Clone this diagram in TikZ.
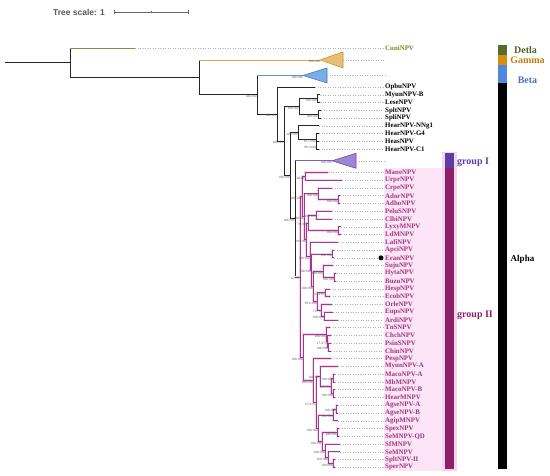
\documentclass[tikz,border=0pt]{standalone}
\usepackage{fontspec}
\setmainfont{Liberation Serif}
\setsansfont{Liberation Sans}
\usetikzlibrary{calc}
\definecolor{cunit}{HTML}{6B8E23}
\definecolor{cunib}{HTML}{7A9A3A}
\definecolor{gamb}{HTML}{D6A84A}
\definecolor{gamf}{HTML}{E9BD73}
\definecolor{gamd}{HTML}{C99433}
\definecolor{betb}{HTML}{5E93D6}
\definecolor{betf}{HTML}{79AEE6}
\definecolor{betd}{HTML}{4A78C8}
\definecolor{gonef}{HTML}{9F86D4}
\definecolor{goned}{HTML}{6C4BB0}
\definecolor{goneb}{HTML}{7B5FC4}
\definecolor{gtwo}{HTML}{A23A8C}
\definecolor{gtwoglow}{HTML}{F6D3EE}
\definecolor{gtwotext}{HTML}{A0347F}
\definecolor{gtwobg}{HTML}{FCE5F6}
\definecolor{bardel}{HTML}{556B2F}
\definecolor{bargam}{HTML}{D4900B}
\definecolor{barbet}{HTML}{4F88DD}
\definecolor{bargone}{HTML}{5C3DA3}
\definecolor{bargtwo}{HTML}{8C1F68}
\definecolor{barglow}{HTML}{F8D3EE}
\definecolor{txtdel}{HTML}{4F6228}
\definecolor{txtgam}{HTML}{C27C0E}
\definecolor{txtbet}{HTML}{4A6FC8}
\begin{document}
\begin{tikzpicture}[x=1pt,y=1pt,
  bb/.style={draw=black!85,line width=0.8pt},
  gtw/.style={draw=gtwo,line width=0.7pt},
  gtwu/.style={draw=gtwoglow,line width=2.4pt},
  dotl/.style={draw=black!30,dotted,line width=0.5pt},
  lab/.style={font=\bfseries\fontsize{6.9}{7}\selectfont,anchor=west,inner sep=0pt},
  glab/.style={text=gtwotext},
  bs/.style={font=\fontsize{3.3}{3.5}\selectfont,text=black!70,anchor=north east,inner sep=0.4pt},
  side/.style={font=\bfseries\fontsize{10}{11}\selectfont,inner sep=0pt}]
\useasboundingbox (0,0) rectangle (550,476);
\newcommand\lf[5]{\coordinate (#1) at (#2,{427.7-7.76*(#3)});
  \node[lab,#4] (#1L) at (385,{427.7-7.76*(#3)}) {#5};
  \draw[dotl] (#1) -- ([xshift=-2pt]#1L.west);}
\newcommand\nd[4]{\path let \p1=($(#3)!0.5!(#4)$) in coordinate (#1) at (#2pt,\y1);}
% backgrounds
\fill[gtwobg] (384,{476-168.5}) rectangle (442,{476-471});
\fill[barglow] (442,{476-152}) rectangle (457,{476-471});
% tips
\lf{cuni}{135}{0}{text=cunit}{CuniNPV}
\coordinate (gam) at (320,{427.7-7.76*1.5});
\coordinate (bet) at (303,{427.7-7.76*3.5});
\coordinate (gone) at (332,{427.7-7.76*14.5});
\lf{opbu}{315}{5}{}{OpbuNPV}
\lf{myunb}{320}{6}{}{MyunNPV-B}
\lf{lese}{320}{7}{}{LeseNPV}
\lf{splt}{321}{8}{}{SpltNPV}
\lf{spli}{321}{9}{}{SpliNPV}
\lf{nng}{319}{10}{}{HearNPV-NNg1}
\lf{gfour}{319}{11}{}{HearNPV-G4}
\lf{heas}{319}{12}{}{HeasNPV}
\lf{cone}{319}{13}{}{HearNPV-C1}
\lf{mane}{328}{16}{glab}{ManeNPV}
\lf{urpr}{342}{17}{glab}{UrprNPV}
\lf{crpe}{332}{18}{glab}{CrpeNPV}
\lf{ador}{340}{19}{glab}{AdorNPV}
\lf{adho}{340}{20}{glab}{AdhoNPV}
\lf{pelu}{332}{21}{glab}{PeluSNPV}
\lf{clbi}{332}{22}{glab}{ClbiNPV}
\lf{lyxy}{341}{23}{glab}{LyxyMNPV}
\lf{ldm}{341}{24}{glab}{LdMNPV}
\lf{lafi}{338}{25}{glab}{LafiNPV}
\lf{apci}{334}{26}{glab}{ApciNPV}
\lf{eran}{334}{27}{glab}{EranNPV}
\lf{suju}{333}{28}{glab}{SujuNPV}
\lf{hyta}{336}{29}{glab}{HytaNPV}
\lf{buzu}{336}{30}{glab}{BuzuNPV}
\lf{hesp}{330}{31}{glab}{HespNPV}
\lf{ecob}{330}{32}{glab}{EcobNPV}
\lf{orle}{332}{33}{glab}{OrleNPV}
\lf{eups}{333}{34}{glab}{EupsNPV}
\lf{ardi}{338}{35}{glab}{ArdiNPV}
\lf{tns}{330}{36}{glab}{TnSNPV}
\lf{chch}{331}{37}{glab}{ChchNPV}
\lf{psin}{331}{38}{glab}{PsinSNPV}
\lf{chin}{331}{39}{glab}{ChinNPV}
\lf{pesp}{331}{40}{glab}{PespNPV}
\lf{myuna}{338}{41}{glab}{MyunNPV-A}
\lf{macoa}{335}{42}{glab}{MacoNPV-A}
\lf{mbm}{335}{43}{glab}{MbMNPV}
\lf{macob}{335}{44}{glab}{MacoNPV-B}
\lf{hearm}{335}{45}{glab}{HearMNPV}
\lf{agsea}{338}{46}{glab}{AgseNPV-A}
\lf{agseb}{338}{47}{glab}{AgseNPV-B}
\lf{agip}{338}{48}{glab}{AgipMNPV}
\lf{spex}{339}{49}{glab}{SpexNPV}
\lf{seqd}{339}{50}{glab}{SeMNPV-QD}
\lf{sfm}{340}{51}{glab}{SfMNPV}
\lf{sem}{340}{52}{glab}{SeMNPV}
\lf{spltii}{335}{53}{glab}{SpltNPV-II}
\lf{sper}{335}{54}{glab}{SperNPV}
% internal nodes
\nd{ml}{317}{myunb}{lese}
\nd{ss}{318}{splt}{spli}
\nd{nfive}{299}{ml}{ss}
\nd{nsevb}{316.5}{heas}{cone}
\nd{nseva}{316}{gfour}{nsevb}
\nd{nsev}{298}{nng}{nseva}
\nd{mu}{305}{mane}{urpr}
\nd{aaone}{338}{ador}{adho}
\nd{ca}{318}{crpe}{aaone}
\nd{pc}{316}{pelu}{clbi}
\nd{ll}{338}{lyxy}{ldm}
\nd{tfour}{308}{pc}{ll}
\nd{ae}{332}{apci}{eran}
\nd{hb}{334}{hyta}{buzu}
\nd{shb}{323}{suju}{hb}
\nd{he}{325}{hesp}{ecob}
\nd{ea}{324}{eups}{ardi}
\nd{tnine}{321}{orle}{ea}
\nd{teight}{317}{he}{tnine}
\nd{tseven}{313}{shb}{teight}
\nd{tsix}{311}{ae}{tseven}
\nd{tfive}{310}{lafi}{tsix}
\nd{tthree}{306}{tfour}{tfive}
\nd{ttwo}{304}{ca}{tthree}
\nd{tone}{302}{mu}{ttwo}
\nd{tcb}{328}{psin}{chin}
\nd{tca}{327.5}{chch}{tcb}
\nd{tc}{326}{tns}{tca}
\nd{mm}{333}{macoa}{mbm}
\nd{mh}{333}{macob}{hearm}
\nd{bfoura}{331}{mm}{mh}
\nd{bfour}{320}{myuna}{bfoura}
\nd{aa}{336}{agsea}{agseb}
\nd{aaa}{333}{aa}{agip}
\nd{sq}{337}{spex}{seqd}
\nd{sstwo}{333}{spltii}{sper}
\nd{beight}{328}{sem}{sstwo}
\nd{bseven}{325}{sfm}{beight}
\nd{bsix}{322}{sq}{bseven}
\nd{bfive}{318}{aaa}{bsix}
\nd{bthree}{316}{bfour}{bfive}
\nd{btwo}{313}{pesp}{bthree}
\nd{bot}{303}{tc}{btwo}
\nd{rtwo}{300}{tone}{bot}
\nd{neight}{295}{gone}{rtwo}
\nd{nsix}{290}{nsev}{neight}
\nd{nfour}{284}{nfive}{nsix}
\nd{nthree}{277}{opbu}{nfour}
\nd{ntwo}{257}{bet}{nthree}
\nd{none}{199}{gam}{ntwo}
\nd{nzero}{70}{cuni}{none}
\coordinate (root) at ($(nzero)+(-65,0)$);
% collapsed clades
\draw[draw=gamd,fill=gamf,line width=0.6pt] (gam) -- ++(23,8) -- ++(0,-16) -- cycle;
\coordinate (gamE) at ($(gam)+(23,0)$);
\draw[dotl] (gamE) -- (gamE -| cuniL.west);
\draw[draw=betd,fill=betf,line width=0.6pt] (bet) -- ++(24,7.5) -- ++(0,-15) -- cycle;
\coordinate (betE) at ($(bet)+(24,0)$);
\draw[dotl] (betE) -- (betE -| cuniL.west);
\draw[draw=goned,fill=gonef,line width=0.6pt] (gone) -- ++(24,7.5) -- ++(0,-15) -- cycle;
\coordinate (goneE) at ($(gone)+(24,0)$);
\draw[dotl] (goneE) -- (goneE -| cuniL.west);
% backbone
\draw[bb] (root) -- (nzero);
\draw[bb] (nzero |- cuni) -- (nzero |- none);
\draw[draw=cunib,line width=0.8pt] (nzero |- cuni) -- (cuni);
\draw[bb] (nzero |- none) -- (none);
\draw[bb] (none |- gam) -- (none |- ntwo);
\draw[draw=gamb,line width=0.8pt] (none |- gam) -- (gam);
\draw[bb] (none |- ntwo) -- (ntwo);
\draw[bb] (ntwo |- bet) -- (ntwo |- nthree);
\draw[draw=betb,line width=0.8pt] (ntwo |- bet) -- (bet);
\draw[bb] (ntwo |- nthree) -- (nthree);
\foreach \n/\a/\b in {nthree/opbu/nfour,nfour/nfive/nsix,nfive/ml/ss,ml/myunb/lese,ss/splt/spli,nsev/nng/nseva,nseva/gfour/nsevb,nsevb/heas/cone}
  {\draw[bb] (\a) -- (\n |- \a) -- (\n |- \b) -- (\b);}
\draw[bb] (nsix |- nsev) -- (nsix |- neight);
\draw[bb] (nsix |- nsev) -- (nsev);
\draw[bb] (nsix |- neight) -- (neight);
\draw[bb] (neight |- gone) -- (neight |- rtwo);
\draw[draw=goneb,line width=0.8pt] (neight |- gone) -- (gone);
% group II
\foreach \s in {gtwu,gtw}{
\draw[\s] (neight |- rtwo) -- (rtwo);
\foreach \n/\a/\b in {rtwo/tone/bot,tone/mu/ttwo,mu/mane/urpr,ttwo/ca/tthree,ca/crpe/aaone,aaone/ador/adho,tthree/tfour/tfive,tfour/pc/ll,pc/pelu/clbi,ll/lyxy/ldm,tfive/lafi/tsix,tsix/ae/tseven,ae/apci/eran,tseven/shb/teight,shb/suju/hb,hb/hyta/buzu,teight/he/tnine,he/hesp/ecob,tnine/orle/ea,ea/eups/ardi,bot/tc/btwo,tc/tns/tca,tca/chch/tcb,tcb/psin/chin,btwo/pesp/bthree,bthree/bfour/bfive,bfour/myuna/bfoura,bfoura/mm/mh,mm/macoa/mbm,mh/macob/hearm,bfive/aaa/bsix,aaa/aa/agip,aa/agsea/agseb,bsix/sq/bseven,sq/spex/seqd,bseven/sfm/beight,beight/sem/sstwo,sstwo/spltii/sper}
  {\draw[\s] (\a) -- (\n |- \a) -- (\n |- \b) -- (\b);}
}
% support values
\foreach \n/\t in {gam/100\slash100,bet/100\slash100,gone/100\slash100,ntwo/100\slash100,nthree/100\slash100,nfour/100\slash100,nfive/100\slash100,ml/100\slash100,ss/100\slash100,nsix/100\slash100,nsev/100\slash100,nseva/82.7\slash100,nsevb/99.2\slash100,neight/100\slash100,rtwo/6.3\slash57,tone/100\slash100,mu/100\slash82,ttwo/100\slash64,ca/100\slash100,aaone/100\slash100,tthree/99.8\slash98,tfour/76.1\slash97,pc/100\slash100,ll/100\slash100,tfive/100\slash100,ae/100\slash100,tsix/100\slash100,tseven/100\slash100,shb/100\slash100,hb/100\slash100,teight/99.6\slash100,he/97.4\slash93,tnine/73\slash76,ea/100\slash100,bot/100\slash100,tc/100\slash100,tca/27.4\slash74,tcb/100\slash100,btwo/100\slash100,bfour/100\slash100,mm/100\slash100,bfoura/100\slash100,mh/100\slash100,bthree/67.9\slash93,bfive/100\slash100,aaa/100\slash100,aa/100\slash100,bsix/100\slash100,sq/100\slash100,bseven/100\slash100,beight/100\slash100,sstwo/100\slash100}
  {\node[bs] at (\n) {\t};}
% marker
\node[circle,fill=black,inner sep=0pt,minimum size=5pt] (erandot) at ($(eranL.west)+(-4,0)$) {};
% scale
\node[font=\sffamily\bfseries\fontsize{8.5}{9}\selectfont,text=black!65,inner sep=0pt] (scaletxt) at (79,464) {Tree scale: 1};
\coordinate (sa) at (114,464);
\coordinate (sb) at (188,464);
\coordinate (sm) at (151,464);
\draw[black!60,line width=0.6pt] (sa) -- (sb);
\draw[black!60,line width=0.6pt] ($(sa)+(0,-2)$) -- ($(sa)+(0,2)$);
\draw[black!60,line width=0.6pt] ($(sb)+(0,-2)$) -- ($(sb)+(0,2)$);
\draw[black!60,line width=0.5pt] ($(sm)+(0,-1)$) -- ($(sm)+(0,1)$);
% group bars
\fill[bargone] (445,{476-153}) rectangle (454,{476-168});
\fill[bargtwo] (445,{476-168}) rectangle (454,{476-469});
\node[side,text=bargone,anchor=west] (gIlab) at (457,{476-162}) {group I};
\node[side,text=bargtwo,anchor=west] (gIIlab) at (457,{476-315}) {group II};
% genus bars
\fill[bardel] (497.7,{476-45}) rectangle (507.3,{476-55});
\fill[bargam] (497.7,{476-55}) rectangle (507.3,{476-65});
\fill[barbet] (497.7,{476-65}) rectangle (507.3,{476-83});
\fill[black] (497.7,{476-83}) rectangle (507.3,{476-469});
\node[side,text=txtdel] (dellab) at (525.5,{476-50}) {Detla};
\node[side,text=txtgam] (gamlab) at (527.5,{476-60.5}) {Gamma};
\node[side,text=txtbet] (betlab) at (527.5,{476-80}) {Beta};
\node[side,font=\bfseries\fontsize{9}{10}\selectfont] (alplab) at (522.5,{476-259}) {Alpha};
\end{tikzpicture}
\end{document}
